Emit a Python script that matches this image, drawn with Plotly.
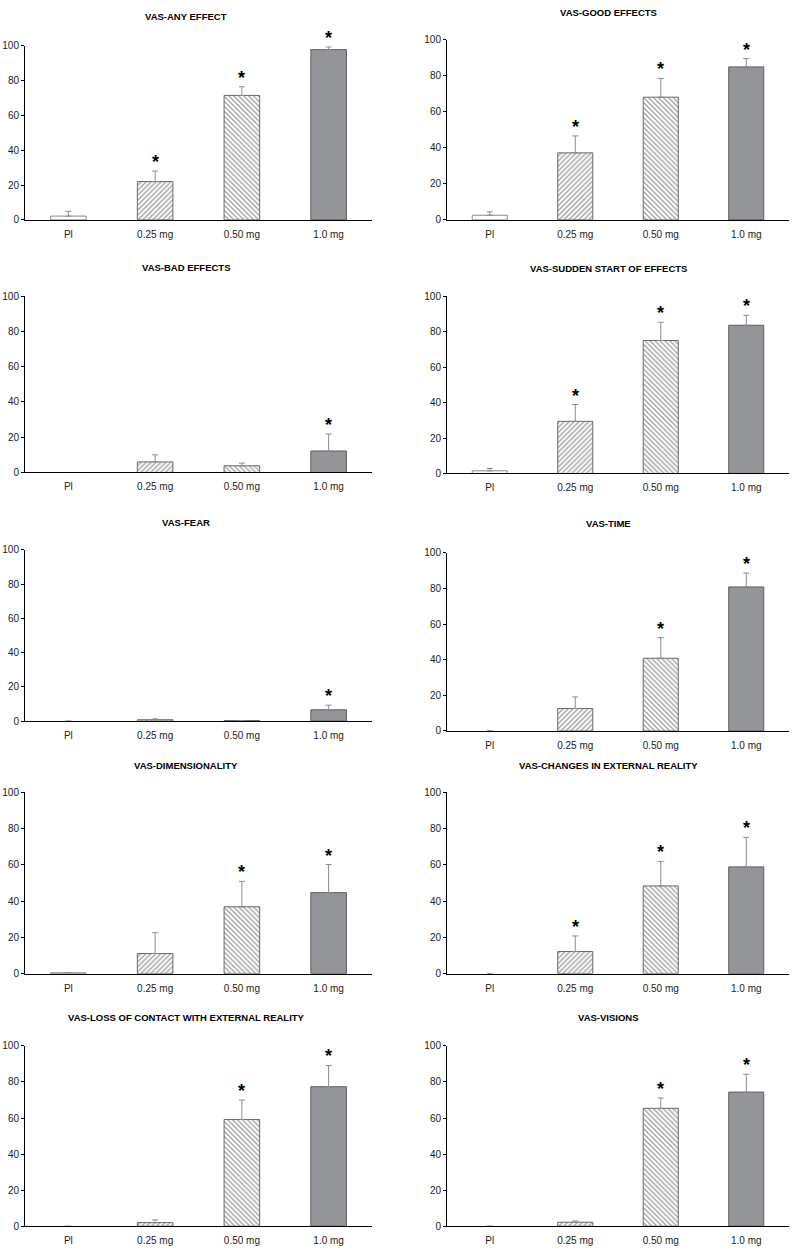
import plotly.graph_objects as go

W, H = 800, 1253
doses = ["Pl", "0.25 mg", "0.50 mg", "1.0 mg"]

# mean VAS scores (0-100) and upper SEM
any_mean = [2.2, 22.0, 71.4, 97.7]
any_err = [2.7, 6.0, 5.0, 1.5]
any_star = [0, 1, 1, 1]

good_mean = [2.6, 37.2, 68.1, 84.9]
good_err = [1.9, 9.4, 10.4, 4.6]
good_star = [0, 1, 1, 1]

bad_mean = [0, 6.0, 3.8, 12.2]
bad_err = [None, 4.0, 1.5, 9.6]
bad_star = [0, 0, 0, 1]

sudden_mean = [1.5, 29.4, 75.0, 83.6]
sudden_err = [1.3, 9.5, 10.3, 5.6]
sudden_star = [0, 1, 1, 1]

fear_mean = [0, 0.8, 0.3, 6.6]
fear_err = [None, 0.5, None, 2.7]
fear_star = [0, 0, 0, 1]

time_mean = [0, 12.6, 40.8, 80.8]
time_err = [None, 6.5, 11.6, 7.8]
time_star = [0, 0, 1, 1]

dim_mean = [0.5, 11.1, 36.9, 44.7]
dim_err = [None, 11.5, 14.0, 15.5]
dim_star = [0, 0, 1, 1]

changes_mean = [0, 12.2, 48.4, 58.9]
changes_err = [None, 8.6, 13.5, 16.3]
changes_star = [0, 1, 1, 1]

loss_mean = [0, 2.0, 59.2, 77.4]
loss_err = [None, 1.5, 10.8, 11.8]
loss_star = [0, 0, 1, 1]

visions_mean = [0, 2.2, 65.4, 74.4]
visions_err = [None, 0.7, 5.7, 9.9]
visions_star = [0, 0, 1, 1]

panels = [
    ("VAS-ANY EFFECT", any_mean, any_err, any_star),
    ("VAS-GOOD EFFECTS", good_mean, good_err, good_star),
    ("VAS-BAD EFFECTS", bad_mean, bad_err, bad_star),
    ("VAS-SUDDEN START OF EFFECTS", sudden_mean, sudden_err, sudden_star),
    ("VAS-FEAR", fear_mean, fear_err, fear_star),
    ("VAS-TIME", time_mean, time_err, time_star),
    ("VAS-DIMENSIONALITY", dim_mean, dim_err, dim_star),
    ("VAS-CHANGES IN EXTERNAL REALITY", changes_mean, changes_err, changes_star),
    ("VAS-LOSS OF CONTACT WITH EXTERNAL REALITY", loss_mean, loss_err, loss_star),
    ("VAS-VISIONS", visions_mean, visions_err, visions_star),
]

# pixel geometry of each panel: (y of 100, y of 0), title y
rows_px = [(40, 216), (34, 216), (293, 471), (293, 472), (549, 722),
           (552, 732), (794, 977), (794, 977), (1050, 1232), (1050, 1232)]
title_px = [11, 7, 264, 265, 521, 522, 767, 767, 1021, 1021]
xdom_px = {0: (25, 372), 1: (447, 789)}
title_x = {0: 186, 1: 608}

FONT = "Liberation Sans, Arial, sans-serif"
fig = go.Figure()
layout = {}
annotations = []
xs = [0, 1, 2, 3]

for k, (title, mean, err, star) in enumerate(panels):
    n = k + 1
    col = k % 2
    top, bot = rows_px[k]
    x0, x1 = xdom_px[col]
    fig.add_trace(go.Bar(
        x=xs, y=mean, width=0.41,
        marker=dict(
            color=["white", "white", "white", "#939598"],
            line=dict(color=["#8a8a8a", "#6a6a6a", "#6a6a6a", "#5e5e5e"],
                      width=[1 if v else 0 for v in mean]),
            pattern=dict(shape=["", "/", "\\", ""], size=3.5, solidity=0.4,
                         fgcolor="#4a4a4a", bgcolor="white"),
        ),
        error_y=dict(type="data", array=err,
                     arrayminus=[None if e is None else 0 for e in err],
                     symmetric=False, color="#8c8c8c", thickness=1, width=3),
        xaxis=f"x{n}", yaxis=f"y{n}", showlegend=False,
        hoverinfo="skip",
    ))
    layout[f"xaxis{n}"] = dict(
        domain=[x0 / W, x1 / W], range=[-0.5, 3.5], anchor=f"y{n}",
        tickvals=xs, ticktext=doses, ticks="outside", ticklen=5,
        tickcolor="rgba(0,0,0,0)", showline=True, linecolor="black",
        linewidth=1, showgrid=False, zeroline=False, fixedrange=True,
        tickfont=dict(family=FONT, size=10, color="#222"),
    )
    layout[f"yaxis{n}"] = dict(
        domain=[1 - bot / H, 1 - top / H], range=[0, 100], anchor=f"x{n}",
        tickvals=[0, 20, 40, 60, 80, 100], ticks="outside", ticklen=3,
        tickcolor="black", showline=True, linecolor="black", linewidth=1,
        showgrid=False, zeroline=False, fixedrange=True,
        tickfont=dict(family=FONT, size=10, color="#222"),
    )
    annotations.append(dict(
        text=f"<b>{title}</b>", xref="paper", yref="paper",
        x=title_x[col] / W, y=1 - title_px[k] / H, xanchor="center",
        yanchor="middle", showarrow=False,
        font=dict(family=FONT, size=9.5, color="black"),
    ))
    for i in xs:
        if star[i]:
            top_val = mean[i] + (err[i] or 0)
            annotations.append(dict(
                text="<b>*</b>", x=i, y=top_val, xref=f"x{n}", yref=f"y{n}",
                showarrow=False, yanchor="bottom", yshift=-3,
                font=dict(family=FONT, size=18, color="black"),
            ))

fig.update_layout(
    width=W, height=H, margin=dict(l=0, r=0, t=0, b=0),
    paper_bgcolor="white", plot_bgcolor="white",
    annotations=annotations, **layout,
)
# drop the default body margin so the figure fills the window exactly
fig.write_html("out.html", config={"displayModeBar": False},
               post_script="document.body.style.margin='0';")
